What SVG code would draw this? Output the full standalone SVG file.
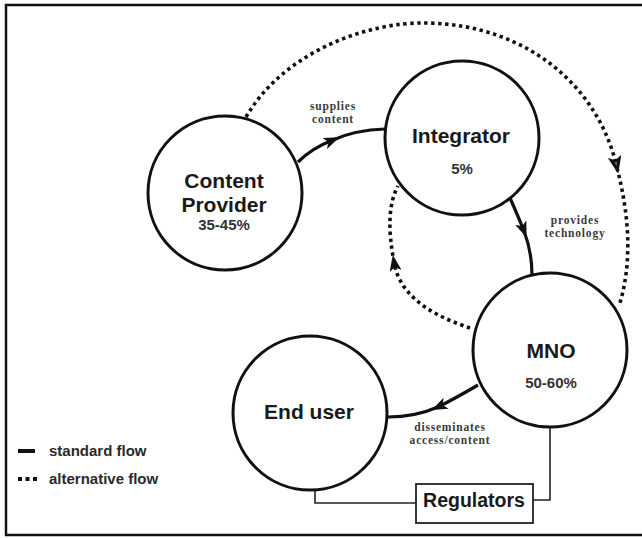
<svg xmlns="http://www.w3.org/2000/svg" width="642" height="538" viewBox="0 0 642 538">
<defs>
<style>
.node{fill:#fff;stroke:#111;stroke-width:3}
.t{font-family:"Liberation Sans",Arial,sans-serif;font-weight:bold;fill:#1a1a1a;text-anchor:middle}
.big{font-size:21px}
.pct{font-size:15px;fill:#333}
.lbl{font-family:"Liberation Serif","Times New Roman",serif;font-weight:bold;font-size:11.5px;fill:#3a3a3a;text-anchor:middle;letter-spacing:0.8px}
.solid{fill:none;stroke:#111;stroke-width:3.2}
.dot{fill:none;stroke:#111;stroke-width:3.6;stroke-dasharray:3.4 3.6}
.thin{fill:none;stroke:#222;stroke-width:1.6}
.leg{font-family:"Liberation Sans",Arial,sans-serif;font-weight:bold;font-size:15px;fill:#2a2a2a}
</style>
<marker id="arr" viewBox="0 0 16 12" refX="9" refY="6" markerWidth="16" markerHeight="12" markerUnits="userSpaceOnUse" orient="auto">
<path d="M0,0 L16,6 L0,12 L4,6 z" fill="#111"/>
</marker>
<marker id="arrd" viewBox="0 0 18 14" refX="12" refY="7" markerWidth="18" markerHeight="14" markerUnits="userSpaceOnUse" orient="auto">
<path d="M0,0 L18,7 L0,14 L4,7 z" fill="#111"/>
<path d="M6,5.5 L10,7 L6,8.5 z" fill="#666"/>
</marker>
</defs>
<rect x="0" y="0" width="642" height="538" fill="#fff"/>
<rect x="6" y="5" width="640" height="530" fill="none" stroke="#111" stroke-width="2.5"/>

<g id="connectors">
<path class="solid" d="M298,162 Q312,148 333,140 Q355,130 385,129" marker-mid="url(#arr)"/>
<path class="solid" d="M510,198 Q518,216 524,231 Q532,252 532,275" marker-mid="url(#arr)"/>
<path class="solid" d="M478,385 Q456,398 438,407 Q415,417 388,417" marker-mid="url(#arr)"/>
<path class="dot" d="M246,117 C285,50 370,22 425,23 C530,24 600,90 617,168" marker-end="url(#arrd)"/>
<path class="dot" d="M617,168 C630,218 632,265 619,306"/>
<path class="dot" d="M470,328 C440,318 400,300 394,262 C388,230 388,205 398,186" marker-mid="url(#arr)"/>
<path class="thin" d="M550,427 V500 H533"/>
<path class="thin" d="M315,490 V503 H416"/>
<text class="lbl" x="333" y="110">supplies</text>
<text class="lbl" x="333" y="123">content</text>
<text class="lbl" x="575" y="224">provides</text>
<text class="lbl" x="575" y="237">technology</text>
<text class="lbl" x="450" y="431">disseminates</text>
<text class="lbl" x="450" y="444">access/content</text>
</g>

<g id="content-provider">
<circle class="node" cx="225" cy="193" r="77"/>
<text class="t big" x="224" y="188">Content</text>
<text class="t big" x="224" y="212">Provider</text>
<text class="t pct" x="224" y="230">35-45%</text>
</g>

<g id="integrator">
<circle class="node" cx="462" cy="138" r="77"/>
<text class="t big" x="461" y="143">Integrator</text>
<text class="t pct" x="462" y="174">5%</text>
</g>

<g id="mno">
<circle class="node" cx="550" cy="350" r="77"/>
<text class="t big" x="551" y="358">MNO</text>
<text class="t pct" x="551" y="388">50-60%</text>
</g>

<g id="end-user">
<circle class="node" cx="310" cy="413" r="77"/>
<text class="t big" x="309" y="419">End user</text>
</g>

<g id="regulators">
<rect x="416" y="484" width="117" height="39" fill="#fff" stroke="#222" stroke-width="1.8"/>
<text class="t" x="474" y="507" style="font-size:19.5px">Regulators</text>
</g>

<g id="legend">
<line x1="18" y1="451" x2="35" y2="451" stroke="#111" stroke-width="4"/>
<text class="leg" x="49" y="456">standard flow</text>
<line x1="18" y1="479" x2="40" y2="479" stroke="#111" stroke-width="4" stroke-dasharray="4 3.5"/>
<text class="leg" x="49" y="484">alternative flow</text>
</g>
</svg>
